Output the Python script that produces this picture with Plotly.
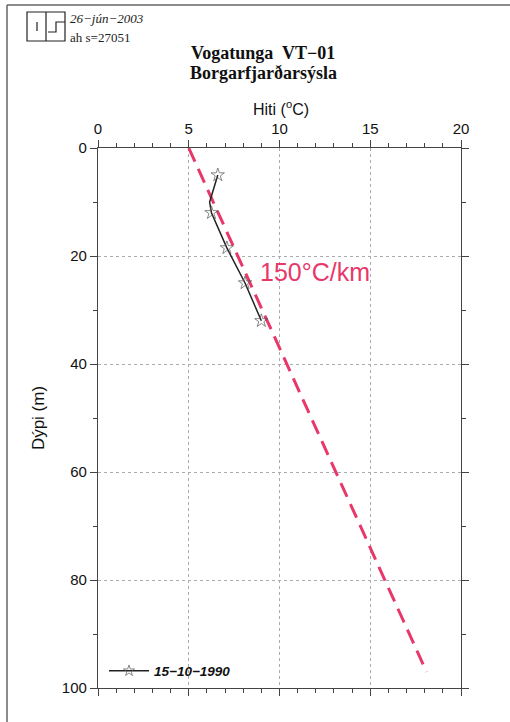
import plotly.graph_objects as go

# ---- data ----
meas_temp = [6.6, 6.15, 6.25, 7.1, 8.1, 9.0]      # Hiti (°C)
meas_depth = [5, 10, 12, 18.5, 25, 32]             # Dýpi (m)
meas_marker = [True, False, True, True, True, True]
meas_label = "15\u221210\u22121990"

grad_temp = [5.0, 18.1]
grad_depth = [0, 97]
grad_label = "150\u00b0C/km"

x_ticks = [0, 5, 10, 15, 20]
y_ticks = [0, 20, 40, 60, 80, 100]

W, H = 510, 722
L, R, T, B = 98, 49, 148, 34
PW, PH = W - L - R, H - T - B


def px(x):
    return (x - L) / PW


def py(y):
    return (H - B - y) / PH


RED = "#E8386A"

fig = go.Figure()

fig.add_trace(go.Scatter(
    x=grad_temp, y=grad_depth, mode="lines",
    line=dict(color=RED, width=3, dash="15px,8px"),
    showlegend=False, hoverinfo="skip"))

fig.add_trace(go.Scatter(
    x=meas_temp, y=meas_depth, mode="lines+markers", name=meas_label,
    line=dict(color="#222222", width=1.5),
    marker=dict(symbol="star-open", size=[10 if m else 0 for m in meas_marker],
                color="#555555", line=dict(width=1)),
    showlegend=True))

axis_common = dict(
    showline=True, linecolor="#444444", linewidth=1.3, mirror="allticks",
    ticks="outside", ticklen=7, tickcolor="#444444", tickwidth=1.2,
    showgrid=True, gridcolor="#ababab", griddash="dot", gridwidth=1,
    zeroline=False,
    tickfont=dict(family="Liberation Sans, Arial", size=15, color="#111111"),
)

fig.update_xaxes(
    range=[0, 20], side="top", tickvals=x_ticks,
    minor=dict(dtick=1, ticks="outside", ticklen=4, tickcolor="#444444", showgrid=False),
    **axis_common)
fig.update_yaxes(
    range=[100, 0], tickvals=y_ticks,
    minor=dict(dtick=10, ticks="outside", ticklen=4, tickcolor="#444444", showgrid=False),
    title=dict(text="D\u00fdpi (m)", standoff=12,
               font=dict(family="Liberation Sans, Arial", size=17, color="#111111")),
    **axis_common)

shapes = [
    # document border (left, top)
    dict(type="line", xref="paper", yref="paper", x0=px(7), x1=px(7), y0=py(5), y1=py(722),
         line=dict(color="#666666", width=1.5)),
    dict(type="line", xref="paper", yref="paper", x0=px(7), x1=px(510), y0=py(5), y1=py(5),
         line=dict(color="#666666", width=1.5)),
    # logo
    dict(type="rect", xref="paper", yref="paper", x0=px(27), x1=px(65), y0=py(12), y1=py(41),
         line=dict(color="#222222", width=1.2)),
    dict(type="line", xref="paper", yref="paper", x0=px(46), x1=px(46), y0=py(12), y1=py(41),
         line=dict(color="#222222", width=1.2)),
    dict(type="line", xref="paper", yref="paper", x0=px(37), x1=px(37), y0=py(22), y1=py(31),
         line=dict(color="#222222", width=1.2)),
    dict(type="path", xref="paper", yref="paper",
         path=f"M {px(65)},{py(22)} L {px(56)},{py(22)} L {px(56)},{py(32)} L {px(48)},{py(32)}",
         line=dict(color="#222222", width=1.2)),
]

annotations = [
    dict(text="<i>26\u2212j\u00fan\u22122003</i>", x=px(68), y=py(18), xref="paper", yref="paper",
         xanchor="left", yanchor="middle", showarrow=False,
         font=dict(family="Liberation Serif, Times New Roman", size=13, color="#222222")),
    dict(text="ah s=27051", x=px(68), y=py(37), xref="paper", yref="paper",
         xanchor="left", yanchor="middle", showarrow=False,
         font=dict(family="Liberation Serif, Times New Roman", size=13, color="#222222")),
    dict(text="<b>Vogatunga  VT\u221201</b>", x=px(263), y=py(53), xref="paper", yref="paper",
         xanchor="center", yanchor="middle", showarrow=False,
         font=dict(family="Liberation Serif, Times New Roman", size=18, color="#111111")),
    dict(text="<b>Borgarfjar\u00f0ars\u00fdsla</b>", x=px(263), y=py(73), xref="paper", yref="paper",
         xanchor="center", yanchor="middle", showarrow=False,
         font=dict(family="Liberation Serif, Times New Roman", size=18, color="#111111")),
    dict(text="Hiti (<sup>o</sup>C)", x=px(281), y=py(108), xref="paper", yref="paper",
         xanchor="center", yanchor="middle", showarrow=False,
         font=dict(family="Liberation Sans, Arial", size=16, color="#111111")),
    dict(text=grad_label, x=px(315), y=py(272), xref="paper", yref="paper",
         xanchor="center", yanchor="middle", showarrow=False,
         font=dict(family="Liberation Sans, Arial", size=25, color=RED)),
]

fig.update_layout(
    width=W, height=H,
    margin=dict(l=L, r=R, t=T, b=B),
    paper_bgcolor="white", plot_bgcolor="white",
    shapes=shapes, annotations=annotations,
    legend=dict(x=px(104), y=py(671), xanchor="left", yanchor="middle",
                bgcolor="rgba(0,0,0,0)", itemwidth=40,
                font=dict(family="Liberation Sans, Arial", size=13.5, color="#111111",
                          weight="bold", style="italic")),
)

fig.write_html("out.html")
